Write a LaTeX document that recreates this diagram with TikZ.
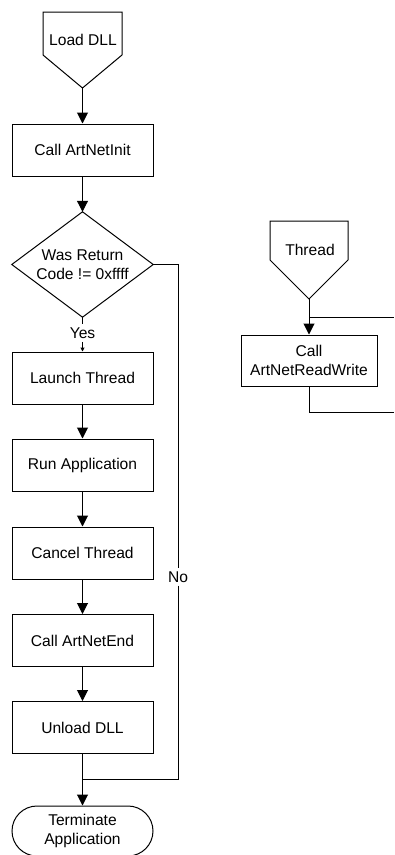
\documentclass[tikz,border=0pt]{standalone}
\usepackage{fontspec}
\setmainfont{Liberation Sans}
\usetikzlibrary{arrows.meta}
\tikzstyle{stepbox} = [draw=black, line width=1pt, rectangle, minimum width=141pt, minimum height=52pt, inner sep=0pt, align=center]
\tikzstyle{termbox} = [stepbox, rounded corners=25pt, minimum height=50pt]
\tikzstyle{wire} = [draw=black, line width=1pt]
\tikzstyle{flow} = [wire, -{Triangle[length=11pt,width=11pt]}]

\begin{document}
\begin{tikzpicture}[x=1pt, y=-1pt, font=\fontsize{15.6}{19}\selectfont]
    \useasboundingbox (0,0) rectangle (394,855);

    % main flow
    \node (load) at (83,40) {Load DLL};
    \draw[wire] (43,12) -- (122,12) -- (122,55) -- (82.5,88) coordinate (loadtip) -- (43,55) -- cycle;
    \node [stepbox] (init) at (82.5,150) {Call ArtNetInit};
    \node [minimum width=141pt, minimum height=105pt, inner sep=0pt, align=center] (ret) at (82.5,264.5) {Was Return\\Code != 0xffff};
    \draw[wire] (ret.north) -- (ret.east) -- (ret.south) -- (ret.west) -- cycle;
    \node (yes) at (82.5,333) {Yes};
    \node [stepbox] (launch) at (82.5,378) {Launch Thread};
    \node [stepbox] (run) at (82.5,465) {Run Application};
    \node [stepbox] (cancel) at (82.5,553) {Cancel Thread};
    \node [stepbox] (netend) at (82.5,640.5) {Call ArtNetEnd};
    \node [stepbox] (unload) at (82.5,727.5) {Unload DLL};
    \node [termbox] (term) at (82.5,831) {Terminate\\Application};
    \coordinate (join) at (82.5,779);
    \node [fill=white, inner sep=3pt] (no) at (178,577) {No};

    \draw[flow] (loadtip) -- (init);
    \draw[flow] (init) -- (ret.north);
    \draw[wire] (ret.south) -- (yes);
    \draw[wire, -{Triangle[length=4pt,width=4pt]}] (yes) -- (launch);
    \draw[flow] (launch) -- (run);
    \draw[flow] (run) -- (cancel);
    \draw[flow] (cancel) -- (netend);
    \draw[flow] (netend) -- (unload);
    \draw[flow] (unload) -- (term);
    \draw[wire] (ret.east) -| (no.north);
    \draw[wire] (no.south) |- (join);

    % thread
    \node (thread) at (310,250) {Thread};
    \draw[wire] (270,221) -- (348,221) -- (348,260) -- (309,299) coordinate (threadtip) -- (270,260) -- cycle;
    \node [stepbox, minimum width=136pt, minimum height=51pt] (rw) at (309,360.5) {Call\\ArtNetReadWrite};
    \coordinate (loopin) at (309,317);
    \coordinate (loopout) at (394,317);
    \coordinate (backout) at (394,412);
    \draw[flow] (threadtip) -- (rw);
    \draw[wire] (loopin) -- (loopout);
    \draw[wire] (rw.south) |- (backout);
\end{tikzpicture}
\end{document}
